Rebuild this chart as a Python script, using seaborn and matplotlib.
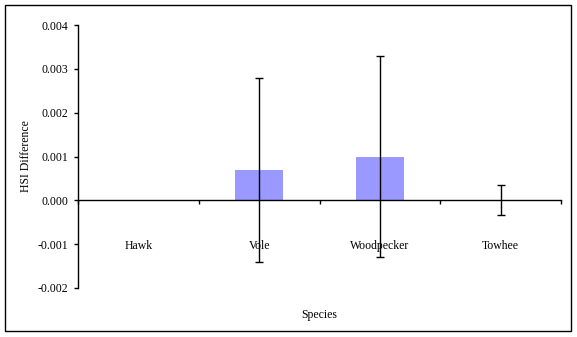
import matplotlib
matplotlib.use("Agg")
import matplotlib.pyplot as plt
from matplotlib.patches import Rectangle
import numpy as np
import pandas as pd
import seaborn as sns

species = ["Hawk", "Vole", "Woodpecker", "Towhee"]
hsi_diff = [0.0, 0.0007, 0.0010, 0.0]
hsi_err = [0.0, 0.0021, 0.0023, 0.00034]
y_ticks = [-0.002, -0.001, 0.000, 0.001, 0.002, 0.003, 0.004]

sns.set_style("white")
plt.rcParams["font.family"] = ["Liberation Serif", "DejaVu Serif"]
plt.rcParams["axes.unicode_minus"] = False
FS = 8.5

df = pd.DataFrame({"Species": species, "HSI Difference": hsi_diff,
                   "Error": hsi_err})

fig = plt.figure(figsize=(5.77, 3.37), dpi=100)
ax = fig.add_axes([78 / 577, 1 - 288 / 337, 483 / 577, 263 / 337])

sns.barplot(data=df, x="Species", y="HSI Difference", color="#9999FF",
            saturation=1, width=0.4, errorbar=None, ax=ax, zorder=1)
for p in ax.patches:
    p.set_edgecolor("none")

# error bars only where a spread was measured
xpos = np.arange(len(species))
has_err = df["Error"] > 0
ax.errorbar(xpos[has_err.values], df.loc[has_err, "HSI Difference"],
            yerr=df.loc[has_err, "Error"], fmt="none", ecolor="black",
            elinewidth=1, capsize=2.6, capthick=1, zorder=3)

ax.set_xlim(-0.5, len(species) - 0.5)
ax.set_ylim(y_ticks[0], y_ticks[-1])
ax.set_yticks(y_ticks)
ax.set_yticklabels([f"{v:.3f}" for v in y_ticks])

# category boundaries as major ticks, names on minor ticks
ax.set_xticks(np.arange(-0.5, len(species), 1.0))
ax.set_xticklabels([])
ax.set_xticks(xpos, minor=True)
ax.set_xticklabels(species, minor=True)
ax.tick_params(axis="x", which="major", direction="out", length=3, width=1,
               color="black", bottom=True)
ax.tick_params(axis="x", which="minor", length=0, pad=28.5, bottom=True,
               labelsize=FS, labelcolor="black")
ax.tick_params(axis="y", direction="out", length=3, width=1, color="black",
               left=True, pad=4, labelsize=FS, labelcolor="black")

for s in ["top", "right"]:
    ax.spines[s].set_visible(False)
ax.spines["left"].set_color("black")
ax.spines["bottom"].set_color("black")
ax.spines["left"].set_linewidth(1)
ax.spines["bottom"].set_linewidth(1)
ax.spines["bottom"].set_position(("data", 0))
ax.spines["bottom"].set_zorder(2)

ax.set_xlabel("Species", fontsize=FS, color="black")
ax.set_ylabel("HSI Difference", fontsize=FS, color="black")
ax.xaxis.set_label_coords(0.5, -0.08)
ax.yaxis.set_label_coords(-0.095, 0.5)

fig.patches.append(Rectangle((5 / 577, 1 - 331 / 337), 566 / 577, 326 / 337,
                             transform=fig.transFigure, fill=False,
                             edgecolor="black", linewidth=1))

fig.savefig("out.png", dpi=100)
